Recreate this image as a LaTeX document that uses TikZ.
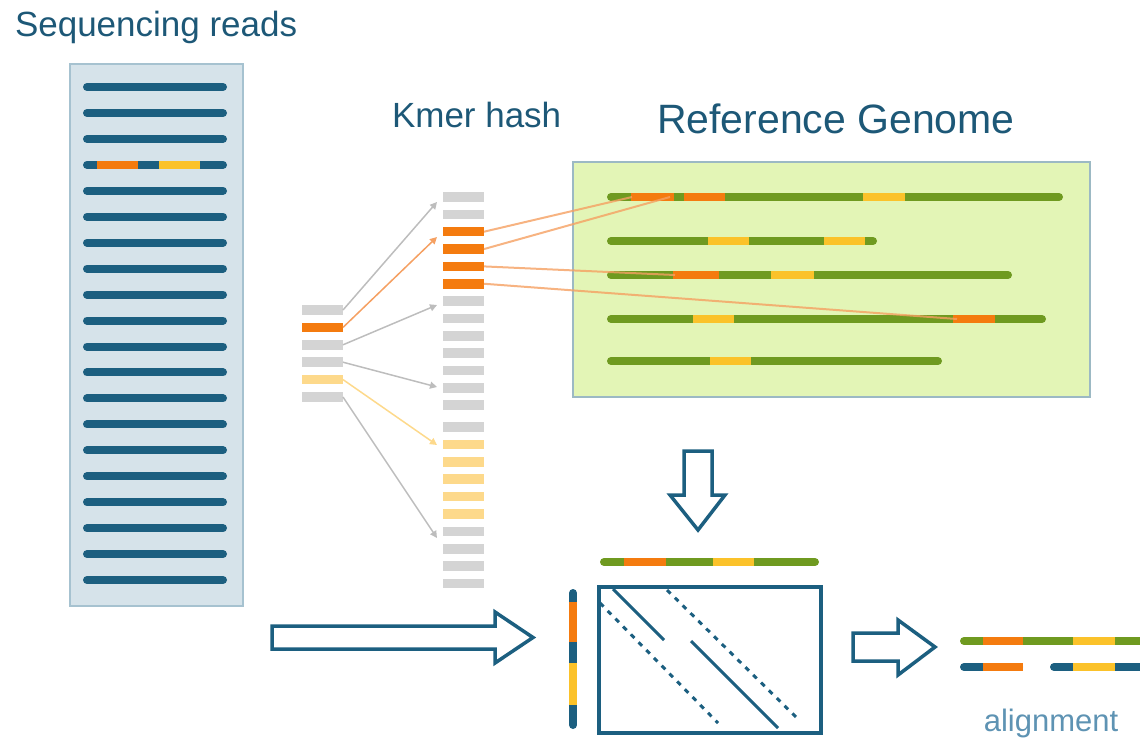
\documentclass[tikz,border=0pt]{standalone}
\usepackage{fontspec}
\setmainfont{Liberation Sans}
\usetikzlibrary{arrows.meta}

\definecolor{readblue}{HTML}{1C5F80}
\definecolor{titleblue}{HTML}{1D5877}
\definecolor{lightlabel}{HTML}{5E93B3}
\definecolor{genegreen}{HTML}{6F9A20}
\definecolor{korange}{HTML}{F47B0F}
\definecolor{kyellow}{HTML}{FBC22A}
\definecolor{paleyellow}{HTML}{FDD98B}
\definecolor{hgray}{HTML}{D4D4D4}
\definecolor{arrowgray}{HTML}{BDBDBD}
\definecolor{linkorange}{HTML}{F5A062}
\definecolor{readfill}{HTML}{D6E3EA}
\definecolor{readedge}{HTML}{A6C2D0}
\definecolor{genefill}{HTML}{E3F5B6}
\definecolor{geneedge}{HTML}{9CB9C4}

% a coloured stretch of a sequence line: colour, x from, x to, y
\newcommand\dnaseg[4]{\draw[line width=8, draw=#1] (#2,#4) -- (#3,#4);}
% a whole sequence line with rounded ends: colour, x from, x to, y
\newcommand\dnaline[4]{\draw[line width=8, line cap=round, draw=#1] (#2+4,#4) -- (#3-4,#4);}

\begin{document}
\begin{tikzpicture}[x=1pt,y=-1pt,
  label/.style={inner sep=0, outer sep=0, text=titleblue, anchor=base west},
  kbar/.style={minimum width=41, minimum height=9.5, inner sep=0, outer sep=0, fill=#1, draw=none},
  ptr/.style={draw=#1, line width=1.5, -{Triangle[length=7pt,width=7pt]}},
  link/.style={draw=linkorange, line width=2, opacity=0.8},
  blockarrow/.style={draw=readblue, line width=3.5, line join=miter, fill=white},
  panel/.style={inner sep=0, outer sep=0, line width=1.5}]

\useasboundingbox (0,0) rectangle (1140,745);

% ---- titles ----
\node[label] (tReads) at (15,36) {\fontsize{35}{42}\selectfont Sequencing reads};
\node[label] (tHash) at (392,127) {\fontsize{35}{42}\selectfont Kmer hash};
\node[label] (tGenome) at (657,133) {\fontsize{41}{48}\selectfont Reference Genome};
\node[label, text=lightlabel, anchor=base] (tAlign) at (1051,731) {\fontsize{31}{36}\selectfont alignment};

% ---- sequencing reads ----
\node[panel, draw=readedge, fill=readfill, minimum width=173, minimum height=542] (reads) at (156.5,335) {};
\foreach \i in {0,...,19}{
  \dnaline{readblue}{83}{227}{87+\i*25.95}
}
\dnaseg{korange}{97}{138}{164.85}
\dnaseg{kyellow}{159}{200}{164.85}

% ---- k-mers of one read ----
\foreach \c [count=\n from 1] in {hgray,korange,hgray,hgray,paleyellow,hgray}{
  \node[kbar=\c] (q\n) at (322.5,{310+(\n-1)*17.4}) {};
}

% ---- k-mer hash table ----
\foreach \c [count=\n from 1] in {hgray,hgray,korange,korange,korange,korange,hgray,hgray,hgray,hgray,hgray,hgray,hgray}{
  \node[kbar=\c] (h\n) at (463.5,{197+(\n-1)*17.35}) {};
}
\foreach \c [count=\n from 14] in {hgray,paleyellow,paleyellow,paleyellow,paleyellow,paleyellow,hgray,hgray,hgray,hgray}{
  \node[kbar=\c] (h\n) at (463.5,{427+(\n-14)*17.4}) {};
}

% lookup arrows
\coordinate (t1) at (437,202);
\coordinate (t2) at (437,237);
\coordinate (t3) at (437,305);
\coordinate (t4) at (437,387);
\coordinate (t5) at (437,445);
\coordinate (t6) at (437,538);
\draw[ptr=arrowgray] (q1.east) -- (t1);
\draw[ptr=arrowgray] (q3.east) -- (t3);
\draw[ptr=arrowgray] (q4.east) -- (t4);
\draw[ptr=arrowgray] (q6.east) -- (t6);
\draw[ptr=paleyellow] (q5.east) -- (t5);
\draw[ptr=linkorange] (q2.east) -- (t2);

% ---- reference genome ----
\node[panel, draw=geneedge, fill=genefill, minimum width=517, minimum height=235] (genome) at (831.5,279.5) {};
\dnaline{genegreen}{607}{1063}{197}
\dnaseg{korange}{631}{674}{197}
\dnaseg{korange}{684}{725}{197}
\dnaseg{kyellow}{863}{905}{197}
\dnaline{genegreen}{607}{877}{241}
\dnaseg{kyellow}{708}{749}{241}
\dnaseg{kyellow}{824}{865}{241}
\dnaline{genegreen}{607}{1012}{275}
\dnaseg{korange}{673}{719}{275}
\dnaseg{kyellow}{771}{814}{275}
\dnaline{genegreen}{607}{1046}{319}
\dnaseg{kyellow}{693}{734}{319}
\dnaseg{korange}{953}{995}{319}
\dnaline{genegreen}{607}{942}{361}
\dnaseg{kyellow}{710}{751}{361}

% hits of the hash in the genome
\coordinate (g1) at (632,197);
\coordinate (g2) at (670,197);
\coordinate (g3) at (675,275);
\coordinate (g4) at (957,319);
\draw[link] (h3.east) -- (g1);
\draw[link] (h4.east) -- (g2);
\draw[link] (h5.east) -- (g3);
\draw[link] (h6.east) -- (g4);

% ---- block arrows ----
\draw[blockarrow] (684,451) -- (712,451) -- (712,495) -- (725,495) -- (698,530)
  -- (670,495) -- (684,495) -- cycle;
\draw[blockarrow] (272,626) -- (495,626) -- (495,612) -- (533,637.5) -- (495,663)
  -- (495,649) -- (272,649) -- cycle;
\draw[blockarrow] (853,633) -- (898,633) -- (898,620) -- (935,647) -- (898,675)
  -- (898,661) -- (853,661) -- cycle;

% ---- dynamic programming matrix ----
\dnaline{genegreen}{600}{819}{562}
\dnaseg{korange}{624}{666}{562}
\dnaseg{kyellow}{713}{754}{562}
\draw[line width=8, line cap=round, readblue] (573,593) -- (573,725);
\draw[line width=8, korange] (573,602) -- (573,642);
\draw[line width=8, kyellow] (573,663) -- (573,705);

\node[panel, draw=readblue, line width=3.5, minimum width=222, minimum height=146] (mat) at (710,660) {};
\draw[readblue, line width=3] (613,589) -- (664,640);
\draw[readblue, line width=3] (691,641) -- (778,728);
\draw[readblue, line width=3, dash pattern=on 5pt off 6pt] (600,603) -- (718,723);
\draw[readblue, line width=3, dash pattern=on 5pt off 6pt] (667,590) -- (797,718);

% ---- alignment result ----
\draw[line width=8, line cap=round, genegreen] (964,641) -- (1145,641);
\dnaseg{korange}{983}{1023}{641}
\dnaseg{kyellow}{1073}{1115}{641}
\draw[line width=8, line cap=round, readblue] (964,667) -- (1019,667);
\dnaseg{korange}{983}{1023}{667}
\draw[line width=8, line cap=round, readblue] (1054,667) -- (1145,667);
\dnaseg{kyellow}{1073}{1115}{667}

\end{tikzpicture}
\end{document}
